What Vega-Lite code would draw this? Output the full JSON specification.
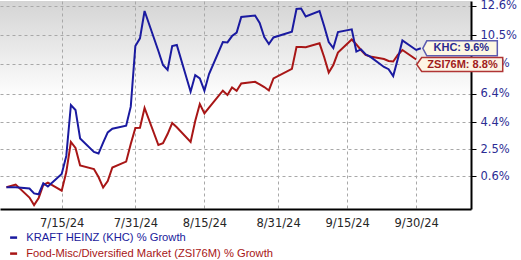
{
  "$schema": "https://vega.github.io/schema/vega-lite/v6.json",
  "width": 471,
  "height": 208,
  "autosize": {"type": "none"},
  "padding": {"left": 0, "top": 1, "right": 50, "bottom": 51},
  "background": "#ffffff",
  "config": {
    "view": {
      "stroke": null,
      "fill": {"gradient": "linear", "x1": 0, "y1": 0, "x2": 0, "y2": 1,
        "stops": [{"offset": 0, "color": "#d4d4d4"}, {"offset": 0.47, "color": "#ffffff"}, {"offset": 1, "color": "#ffffff"}]}
    },
    "axis": {
      "gridColor": "#a8a8a8", "gridDash": [3, 3], "gridWidth": 1,
      "domainColor": "#000000", "domainWidth": 2,
      "labelFont": "DejaVu Sans", "labelFontSize": 11.5, "title": null
    },
    "legend": {"padding": 0, "title": null, "labelLimit": 0}
  },
  "datasets": {
    "lines": [
      {"date": "2024-07-03", "series": "KHC", "value": -0.16},
      {"date": "2024-07-05", "series": "KHC", "value": -0.16},
      {"date": "2024-07-08", "series": "KHC", "value": -0.25},
      {"date": "2024-07-09", "series": "KHC", "value": -0.59},
      {"date": "2024-07-10", "series": "KHC", "value": -0.65},
      {"date": "2024-07-11", "series": "KHC", "value": 0.12},
      {"date": "2024-07-12", "series": "KHC", "value": -0.11},
      {"date": "2024-07-15", "series": "KHC", "value": 0.77},
      {"date": "2024-07-16", "series": "KHC", "value": 2.04},
      {"date": "2024-07-17", "series": "KHC", "value": 5.62},
      {"date": "2024-07-18", "series": "KHC", "value": 5.27},
      {"date": "2024-07-19", "series": "KHC", "value": 3.27},
      {"date": "2024-07-22", "series": "KHC", "value": 2.32},
      {"date": "2024-07-23", "series": "KHC", "value": 2.21},
      {"date": "2024-07-24", "series": "KHC", "value": 2.97},
      {"date": "2024-07-25", "series": "KHC", "value": 3.69},
      {"date": "2024-07-26", "series": "KHC", "value": 3.95},
      {"date": "2024-07-29", "series": "KHC", "value": 4.16},
      {"date": "2024-07-30", "series": "KHC", "value": 5.50},
      {"date": "2024-07-31", "series": "KHC", "value": 9.76},
      {"date": "2024-08-01", "series": "KHC", "value": 10.30},
      {"date": "2024-08-02", "series": "KHC", "value": 12.22},
      {"date": "2024-08-05", "series": "KHC", "value": 9.41},
      {"date": "2024-08-06", "series": "KHC", "value": 8.43},
      {"date": "2024-08-07", "series": "KHC", "value": 8.08},
      {"date": "2024-08-08", "series": "KHC", "value": 9.76},
      {"date": "2024-08-09", "series": "KHC", "value": 9.83},
      {"date": "2024-08-12", "series": "KHC", "value": 6.55},
      {"date": "2024-08-13", "series": "KHC", "value": 7.72},
      {"date": "2024-08-14", "series": "KHC", "value": 7.49},
      {"date": "2024-08-15", "series": "KHC", "value": 6.62},
      {"date": "2024-08-16", "series": "KHC", "value": 7.79},
      {"date": "2024-08-19", "series": "KHC", "value": 10.04},
      {"date": "2024-08-20", "series": "KHC", "value": 10.01},
      {"date": "2024-08-21", "series": "KHC", "value": 10.46},
      {"date": "2024-08-22", "series": "KHC", "value": 10.70},
      {"date": "2024-08-23", "series": "KHC", "value": 11.80},
      {"date": "2024-08-26", "series": "KHC", "value": 11.90},
      {"date": "2024-08-27", "series": "KHC", "value": 11.38},
      {"date": "2024-08-28", "series": "KHC", "value": 10.39},
      {"date": "2024-08-29", "series": "KHC", "value": 9.90},
      {"date": "2024-08-30", "series": "KHC", "value": 10.36},
      {"date": "2024-09-03", "series": "KHC", "value": 10.77},
      {"date": "2024-09-04", "series": "KHC", "value": 12.36},
      {"date": "2024-09-05", "series": "KHC", "value": 12.39},
      {"date": "2024-09-06", "series": "KHC", "value": 11.83},
      {"date": "2024-09-09", "series": "KHC", "value": 12.22},
      {"date": "2024-09-10", "series": "KHC", "value": 11.17},
      {"date": "2024-09-11", "series": "KHC", "value": 10.04},
      {"date": "2024-09-12", "series": "KHC", "value": 9.62},
      {"date": "2024-09-13", "series": "KHC", "value": 10.74},
      {"date": "2024-09-16", "series": "KHC", "value": 10.93},
      {"date": "2024-09-17", "series": "KHC", "value": 9.37},
      {"date": "2024-09-18", "series": "KHC", "value": 9.52},
      {"date": "2024-09-19", "series": "KHC", "value": 9.18},
      {"date": "2024-09-20", "series": "KHC", "value": 9.01},
      {"date": "2024-09-23", "series": "KHC", "value": 8.29},
      {"date": "2024-09-24", "series": "KHC", "value": 8.13},
      {"date": "2024-09-25", "series": "KHC", "value": 7.65},
      {"date": "2024-09-26", "series": "KHC", "value": 8.85},
      {"date": "2024-09-27", "series": "KHC", "value": 10.15},
      {"date": "2024-09-30", "series": "KHC", "value": 9.48},
      {"date": "2024-10-01", "series": "KHC", "value": 9.60},
      {"date": "2024-07-03", "series": "ZSI76M", "value": -0.16},
      {"date": "2024-07-05", "series": "ZSI76M", "value": 0.03},
      {"date": "2024-07-08", "series": "ZSI76M", "value": -0.88},
      {"date": "2024-07-09", "series": "ZSI76M", "value": -1.41},
      {"date": "2024-07-10", "series": "ZSI76M", "value": -0.91},
      {"date": "2024-07-11", "series": "ZSI76M", "value": 0.00},
      {"date": "2024-07-12", "series": "ZSI76M", "value": 0.16},
      {"date": "2024-07-15", "series": "ZSI76M", "value": -0.40},
      {"date": "2024-07-16", "series": "ZSI76M", "value": 0.91},
      {"date": "2024-07-17", "series": "ZSI76M", "value": 3.02},
      {"date": "2024-07-18", "series": "ZSI76M", "value": 2.60},
      {"date": "2024-07-19", "series": "ZSI76M", "value": 1.37},
      {"date": "2024-07-22", "series": "ZSI76M", "value": 1.12},
      {"date": "2024-07-23", "series": "ZSI76M", "value": 0.56},
      {"date": "2024-07-24", "series": "ZSI76M", "value": -0.18},
      {"date": "2024-07-25", "series": "ZSI76M", "value": 0.28},
      {"date": "2024-07-26", "series": "ZSI76M", "value": 1.23},
      {"date": "2024-07-29", "series": "ZSI76M", "value": 1.64},
      {"date": "2024-07-30", "series": "ZSI76M", "value": 2.88},
      {"date": "2024-07-31", "series": "ZSI76M", "value": 4.00},
      {"date": "2024-08-01", "series": "ZSI76M", "value": 4.02},
      {"date": "2024-08-02", "series": "ZSI76M", "value": 5.41},
      {"date": "2024-08-05", "series": "ZSI76M", "value": 2.81},
      {"date": "2024-08-06", "series": "ZSI76M", "value": 2.93},
      {"date": "2024-08-07", "series": "ZSI76M", "value": 3.58},
      {"date": "2024-08-08", "series": "ZSI76M", "value": 4.35},
      {"date": "2024-08-09", "series": "ZSI76M", "value": 4.05},
      {"date": "2024-08-12", "series": "ZSI76M", "value": 3.02},
      {"date": "2024-08-13", "series": "ZSI76M", "value": 4.49},
      {"date": "2024-08-14", "series": "ZSI76M", "value": 5.69},
      {"date": "2024-08-15", "series": "ZSI76M", "value": 5.03},
      {"date": "2024-08-16", "series": "ZSI76M", "value": 5.44},
      {"date": "2024-08-19", "series": "ZSI76M", "value": 6.62},
      {"date": "2024-08-20", "series": "ZSI76M", "value": 6.32},
      {"date": "2024-08-21", "series": "ZSI76M", "value": 6.85},
      {"date": "2024-08-22", "series": "ZSI76M", "value": 6.62},
      {"date": "2024-08-23", "series": "ZSI76M", "value": 7.13},
      {"date": "2024-08-26", "series": "ZSI76M", "value": 7.25},
      {"date": "2024-08-27", "series": "ZSI76M", "value": 7.07},
      {"date": "2024-08-28", "series": "ZSI76M", "value": 6.88},
      {"date": "2024-08-29", "series": "ZSI76M", "value": 6.64},
      {"date": "2024-08-30", "series": "ZSI76M", "value": 7.48},
      {"date": "2024-09-03", "series": "ZSI76M", "value": 8.15},
      {"date": "2024-09-04", "series": "ZSI76M", "value": 9.69},
      {"date": "2024-09-05", "series": "ZSI76M", "value": 9.69},
      {"date": "2024-09-06", "series": "ZSI76M", "value": 9.67},
      {"date": "2024-09-09", "series": "ZSI76M", "value": 9.95},
      {"date": "2024-09-10", "series": "ZSI76M", "value": 8.99},
      {"date": "2024-09-11", "series": "ZSI76M", "value": 7.90},
      {"date": "2024-09-12", "series": "ZSI76M", "value": 8.43},
      {"date": "2024-09-13", "series": "ZSI76M", "value": 9.30},
      {"date": "2024-09-16", "series": "ZSI76M", "value": 10.22},
      {"date": "2024-09-17", "series": "ZSI76M", "value": 9.87},
      {"date": "2024-09-18", "series": "ZSI76M", "value": 9.48},
      {"date": "2024-09-19", "series": "ZSI76M", "value": 9.13},
      {"date": "2024-09-20", "series": "ZSI76M", "value": 9.02},
      {"date": "2024-09-23", "series": "ZSI76M", "value": 8.85},
      {"date": "2024-09-24", "series": "ZSI76M", "value": 8.71},
      {"date": "2024-09-25", "series": "ZSI76M", "value": 8.67},
      {"date": "2024-09-26", "series": "ZSI76M", "value": 9.13},
      {"date": "2024-09-27", "series": "ZSI76M", "value": 9.48},
      {"date": "2024-09-30", "series": "ZSI76M", "value": 8.81}
    ]
  },
  "encoding": {
    "x": {
      "field": "date", "type": "temporal",
      "scale": {"type": "utc", "domain": [
        {"year": 2024, "month": 7, "date": 1, "hours": 14, "minutes": 24, "utc": true},
        {"year": 2024, "month": 10, "date": 11, "hours": 21, "minutes": 36, "utc": true}]},
      "axis": {
        "orient": "bottom",
        "values": [
          {"year": 2024, "month": 7, "date": 15, "utc": true},
          {"year": 2024, "month": 7, "date": 31, "utc": true},
          {"year": 2024, "month": 8, "date": 15, "utc": true},
          {"year": 2024, "month": 8, "date": 31, "utc": true},
          {"year": 2024, "month": 9, "date": 15, "utc": true},
          {"year": 2024, "month": 9, "date": 30, "utc": true}],
        "labelExpr": "utcFormat(datum.value, '%-m/%d/%y')",
        "ticks": false, "labelPadding": 8, "labelColor": "#262626", "labelFlush": false
      }
    },
    "y": {
      "field": "value", "type": "quantitative",
      "scale": {"domain": [-1.686, 12.921], "nice": false, "zero": false},
      "axis": {
        "orient": "right",
        "values": [0.6, 2.5, 4.4, 6.4, 8.5, 10.5, 12.6],
        "labelExpr": "format(datum.value, '.1f') + '%'",
        "ticks": true, "tickColor": "#000000", "tickSize": 5, "tickWidth": 1,
        "labelPadding": 4, "labelColor": "#2c2c94", "labelFlush": false
      }
    }
  },
  "layer": [
    {
      "data": {"name": "lines"},
      "transform": [{"filter": "datum.series == 'ZSI76M'"}],
      "mark": {"type": "line", "strokeWidth": 2},
      "encoding": {
        "color": {"field": "series", "type": "nominal",
          "scale": {"range": ["#a81616"]},
          "legend": {"orient": "none", "legendX": 8, "legendY": 247,
            "symbolType": "stroke", "symbolSize": 49, "symbolStrokeWidth": 2.5,
            "labelFont": "Liberation Sans", "labelFontSize": 11.2, "labelColor": "#a81616", "labelOffset": 7, "labelLimit": 0,
            "labelExpr": "'Food-Misc/Diversified Market (ZSI76M) % Growth'"}}
      }
    },
    {
      "data": {"name": "lines"},
      "transform": [{"filter": "datum.series == 'KHC'"}],
      "mark": {"type": "line", "strokeWidth": 2},
      "encoding": {
        "color": {"field": "series", "type": "nominal",
          "scale": {"range": ["#1a1aa0"]},
          "legend": {"orient": "none", "legendX": 8, "legendY": 231,
            "symbolType": "stroke", "symbolSize": 49, "symbolStrokeWidth": 2.5,
            "labelFont": "Liberation Sans", "labelFontSize": 11.2, "labelColor": "#1a1a9c", "labelOffset": 7, "labelLimit": 0,
            "labelExpr": "'KRAFT HEINZ (KHC) % Growth'"}}
      }
    },
    {
      "data": {"values": [{"date": "2024-10-01", "value": 9.6, "label": "KHC: 9.6%"}]},
      "mark": {"type": "point", "shape": "M2,0L6,-7.5L76.5,-7.5L76.5,7.5L6,7.5Z", "size": 4,
        "filled": true, "fill": "#fdf7e2", "stroke": "#5c5cb0", "strokeWidth": 1.5, "opacity": 1}
    },
    {
      "data": {"values": [{"date": "2024-10-01", "value": 9.6, "label": "KHC: 9.6%"}]},
      "mark": {"type": "text", "font": "Liberation Sans", "fontWeight": "bold", "fontSize": 11,
        "color": "#2a2a90", "align": "center", "baseline": "middle", "dx": 40.5},
      "encoding": {"text": {"field": "label"}}
    },
    {
      "data": {"values": [{"date": "2024-09-30", "value": 8.81, "label": "ZSI76M: 8.8%"}]},
      "mark": {"type": "point", "shape": "M0.5,0L5.5,-7L86.5,-7L86.5,7L5.5,7Z", "size": 4, "yOffset": 5,
        "filled": true, "fill": "#fdf4e4", "stroke": "#b03434", "strokeWidth": 1.5, "opacity": 1}
    },
    {
      "data": {"values": [{"date": "2024-09-30", "value": 8.81, "label": "ZSI76M: 8.8%"}]},
      "mark": {"type": "text", "font": "Liberation Sans", "fontWeight": "bold", "fontSize": 11,
        "color": "#a01c1c", "align": "center", "baseline": "middle", "dx": 46.3, "dy": 5},
      "encoding": {"text": {"field": "label"}}
    }
  ],
  "resolve": {"scale": {"color": "independent"}, "legend": {"color": "independent"}}
}
